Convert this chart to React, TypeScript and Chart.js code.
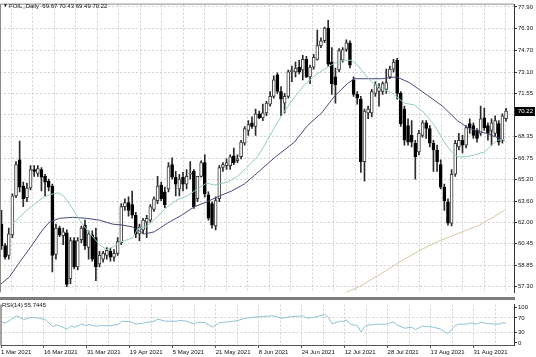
import React, { useEffect, useRef } from "react";
import { Chart, registerables } from "chart.js";
Chart.register(...registerables);

// ---------- DATA ----------
const SYMBOL = "FOIL,,Daily";
const DATE_LABELS = ["1 Mar 2021", "16 Mar 2021", "31 Mar 2021", "19 Apr 2021", "5 May 2021", "21 May 2021", "8 Jun 2021", "24 Jun 2021", "12 Jul 2021", "28 Jul 2021", "13 Aug 2021", "31 Aug 2021"];
const PRICE_TICKS = [77.9, 76.3, 74.7, 73.1, 71.55, 69.95, 68.35, 66.75, 65.2, 63.6, 62.0, 60.45, 58.85, 57.3];
const RSI_TICKS = [100, 70, 30, 0];
const RSI_GRID_LEVELS = [70, 30];

const OPEN = [
  61.90, 60.32, 59.60, 61.11, 63.98, 66.64, 64.70, 63.84, 64.56, 65.92,
  65.64, 65.92, 65.42, 65.06, 64.70, 59.67, 61.61, 61.04, 61.25, 57.88,
  60.68, 58.74, 60.75, 61.83, 60.18, 61.11, 60.90, 58.96, 59.32, 59.60,
  59.89, 59.46, 59.75, 60.54, 63.19, 63.48, 63.34, 62.55, 61.18, 61.47,
  62.05, 62.19, 62.98, 63.63, 64.78, 64.27, 64.49, 66.28, 65.35, 64.49,
  65.35, 64.85, 65.57, 65.78, 63.77, 65.42, 66.43, 64.06, 63.41, 61.76,
  63.77, 66.07, 66.21, 66.21, 66.93, 66.57, 66.86, 67.86, 68.80, 69.37,
  69.09, 70.02, 69.73, 70.09, 70.74, 71.31, 72.89, 71.67, 70.81, 71.31,
  73.11, 73.11, 73.47, 73.25, 74.04, 72.75, 73.47, 74.04, 75.05, 75.41,
  76.34, 73.83, 72.75, 73.25, 73.97, 74.76, 75.26, 72.53, 71.46, 71.10,
  66.50, 70.09, 70.09, 71.53, 71.67, 71.67, 71.82, 72.75, 73.32, 73.97,
  71.53, 70.38, 69.16, 68.44, 67.86, 67.22, 68.44, 69.37, 68.94, 67.86,
  67.36, 66.28, 64.63, 63.55, 61.97, 65.57, 67.58, 68.08, 67.72, 69.30,
  69.16, 68.80, 68.58, 69.73, 69.16, 68.80, 68.58, 69.30, 68.08, 69.67,
];
const HIGH = [
  62.91, 60.46, 61.61, 64.13, 66.50, 68.01, 64.99, 64.92, 66.21, 66.21,
  66.21, 66.07, 65.57, 65.21, 64.85, 61.90, 61.76, 61.61, 61.47, 60.90,
  60.90, 60.90, 61.76, 62.19, 61.40, 61.40, 61.61, 59.89, 59.89, 60.18,
  60.11, 60.03, 60.90, 63.41, 63.77, 63.91, 64.34, 62.76, 61.90, 62.33,
  62.55, 63.34, 63.91, 65.42, 64.99, 64.63, 66.43, 66.79, 65.78, 65.57,
  65.71, 65.92, 66.50, 65.92, 65.42, 66.57, 67.00, 64.27, 63.55, 63.91,
  66.21, 66.43, 66.71, 67.00, 67.51, 67.00, 68.08, 69.09, 69.52, 69.80,
  70.38, 70.23, 70.74, 70.95, 71.67, 72.82, 73.04, 72.03, 71.53, 73.25,
  73.54, 73.83, 73.97, 74.33, 74.26, 73.61, 74.40, 76.20, 75.62, 76.41,
  76.92, 74.90, 73.40, 74.83, 74.90, 75.48, 75.41, 72.75, 71.67, 71.31,
  70.38, 70.59, 71.82, 72.39, 72.25, 72.39, 73.32, 73.54, 74.04, 74.11,
  71.67, 70.59, 69.66, 69.52, 68.08, 68.80, 69.52, 69.52, 69.16, 68.08,
  67.72, 66.64, 64.85, 63.77, 65.92, 68.08, 68.58, 68.44, 69.16, 69.66,
  69.37, 68.94, 70.59, 70.45, 69.37, 69.66, 69.88, 69.52, 70.02, 70.43,
];
const LOW = [
  60.03, 59.32, 59.32, 60.90, 63.84, 64.27, 63.19, 63.55, 64.42, 65.42,
  65.42, 64.34, 63.98, 64.34, 58.38, 59.32, 60.97, 60.39, 57.30, 57.52,
  58.60, 58.53, 60.54, 60.03, 59.32, 59.17, 57.73, 58.74, 59.10, 59.32,
  59.17, 59.17, 59.60, 60.39, 62.91, 62.48, 62.33, 60.90, 60.68, 61.18,
  60.90, 62.05, 62.84, 63.41, 63.63, 63.12, 64.27, 65.21, 63.98, 63.98,
  64.34, 64.49, 65.21, 63.05, 63.55, 65.35, 63.91, 62.19, 61.61, 61.47,
  63.55, 65.78, 65.92, 65.92, 66.28, 66.43, 66.71, 67.72, 68.44, 68.94,
  68.44, 69.66, 69.52, 69.88, 70.59, 71.17, 71.53, 69.88, 70.09, 71.17,
  72.39, 72.75, 72.96, 72.53, 72.68, 72.25, 73.32, 73.97, 74.90, 75.26,
  73.54, 71.46, 70.81, 73.11, 73.83, 74.62, 73.40, 71.31, 70.74, 65.71,
  65.06, 69.66, 69.80, 71.31, 70.59, 71.46, 71.53, 72.61, 73.11, 71.10,
  69.09, 67.72, 67.72, 67.58, 65.21, 67.00, 68.30, 68.22, 67.58, 65.78,
  65.78, 64.49, 62.91, 61.83, 61.76, 65.42, 67.36, 67.15, 67.51, 68.58,
  68.22, 67.94, 68.44, 68.80, 68.08, 67.72, 68.37, 67.72, 67.86, 69.49,
];
const CLOSE = [
  60.32, 59.46, 61.18, 63.98, 66.28, 64.63, 63.77, 64.56, 65.92, 65.78,
  66.00, 65.35, 64.99, 64.63, 59.60, 61.61, 61.11, 61.33, 57.45, 60.68,
  58.74, 60.68, 61.61, 60.32, 61.18, 59.32, 58.74, 59.60, 59.75, 59.96,
  59.46, 59.75, 60.61, 63.19, 63.48, 62.91, 62.55, 61.18, 61.69, 62.19,
  62.33, 63.19, 63.77, 64.70, 63.77, 63.34, 66.14, 65.35, 64.85, 65.21,
  64.85, 65.42, 65.64, 63.19, 65.42, 66.43, 64.13, 62.33, 61.83, 63.63,
  66.07, 66.28, 66.43, 66.86, 66.43, 66.71, 67.94, 68.94, 69.23, 69.09,
  70.02, 69.73, 70.09, 70.81, 71.31, 72.53, 71.67, 71.10, 71.31, 73.11,
  73.25, 73.40, 73.11, 74.04, 72.75, 73.47, 74.19, 75.05, 75.41, 76.34,
  73.68, 72.25, 72.17, 74.69, 74.76, 75.26, 73.61, 71.46, 71.17, 66.50,
  70.23, 70.38, 71.67, 72.17, 71.96, 72.25, 72.32, 73.32, 73.83, 71.53,
  69.30, 68.08, 67.94, 67.94, 66.86, 68.58, 69.37, 68.94, 67.86, 67.36,
  66.50, 64.63, 63.63, 61.97, 65.57, 67.86, 68.08, 67.72, 69.01, 69.01,
  68.44, 68.22, 69.66, 69.01, 68.58, 69.37, 69.52, 67.94, 69.88, 70.22,
];

// fast moving average (teal), read at bar positions
const MA_FAST_X = [3.0, 6.9, 11.3, 13.2, 15.4, 16.8, 18.7, 21.5, 24.2, 27.0, 28.9, 30.9, 32.5, 36.1, 37.5, 40.2, 43.0, 45.7, 48.5, 51.2, 54.0, 56.5, 58.7, 62.3, 65.0, 67.8, 70.5, 72.5, 75.2, 78.0, 80.7, 83.5, 86.2, 89.0, 91.7, 94.5, 96.4, 98.1, 100.0, 101.9, 104.7, 107.4, 111.0, 113.8, 116.5, 119.3, 122.0, 124.0, 125.6, 128.1, 130.3, 133.1, 135.0, 136.6, 138.6];
const MA_FAST_Y = [61.90, 62.91, 63.84, 64.06, 64.20, 64.06, 63.41, 62.19, 61.26, 60.39, 60.03, 60.25, 60.54, 60.89, 61.54, 61.76, 62.48, 63.19, 63.70, 63.98, 64.49, 64.92, 64.78, 64.99, 65.42, 66.14, 66.86, 67.72, 69.01, 70.24, 71.24, 72.17, 72.82, 73.32, 73.75, 73.97, 73.97, 73.61, 72.96, 72.39, 71.89, 71.60, 70.81, 70.67, 70.09, 69.16, 67.94, 67.22, 66.86, 66.86, 67.00, 67.22, 67.72, 68.08, 68.15];
// slow moving average (navy)
const MA_SLOW_X = [-0.3, 2.2, 5.0, 8.5, 11.3, 13.2, 16.0, 19.6, 23.4, 27.0, 30.6, 33.3, 36.1, 39.4, 42.1, 45.7, 49.6, 53.2, 56.7, 59.5, 63.4, 66.9, 69.7, 75.2, 80.7, 84.3, 88.2, 91.7, 95.3, 97.2, 100.8, 104.7, 108.8, 112.4, 117.4, 121.5, 125.6, 128.9, 133.6, 137.2, 138.6];
const MA_SLOW_Y = [57.45, 58.02, 59.10, 60.39, 61.47, 62.05, 62.33, 62.40, 62.33, 62.19, 61.90, 61.83, 61.69, 61.18, 61.33, 61.97, 62.55, 63.19, 63.55, 63.91, 64.34, 64.85, 65.49, 66.79, 67.94, 69.16, 70.09, 71.31, 72.25, 72.61, 72.61, 72.61, 72.75, 72.32, 71.38, 70.59, 69.52, 68.94, 68.58, 68.22, 68.08];
// long moving average (beige)
const MA_LONG_X = [94.0, 98.6, 104.1, 109.6, 115.2, 120.7, 126.2, 131.7, 138.6];
const MA_LONG_Y = [56.75, 57.30, 58.17, 59.10, 59.96, 60.68, 61.25, 61.83, 62.91];

// RSI(14)
const RSI_X = [0, 1, 4, 6, 8, 10, 12, 14, 15, 16, 18, 19, 20, 22, 23, 24, 26, 27, 30, 32, 33, 35, 37, 39, 42, 43, 45, 48, 49, 51, 53, 54, 56, 58, 60, 62, 64, 65, 67, 69, 72, 74, 75, 77, 80, 83, 84, 86, 89, 90, 91, 93, 94, 95, 96, 98, 99, 100, 101, 104, 106, 108, 109, 111, 113, 114, 116, 119, 121, 122, 123, 125, 126, 128, 129, 131, 132, 134, 137, 138, 139];
const RSI_V = [58.6, 56, 76, 65.6, 71.6, 70, 64.6, 45.7, 50, 47.5, 38.8, 47.5, 44, 52.7, 48.3, 51.7, 46.5, 48.3, 48.3, 51.7, 60.4, 60.4, 52.7, 56, 61, 67, 61, 61, 63, 61, 52.7, 58.6, 57, 44, 57, 58.6, 61, 63, 69, 71.6, 74, 76, 76, 69, 74, 76, 70, 71.6, 80, 71.6, 54, 60.4, 60.4, 64.6, 52.7, 48.3, 31, 46, 50, 52.7, 52.7, 58.6, 50, 41.3, 44, 37, 47.5, 44, 38.8, 31, 27, 48.3, 52.7, 52.7, 56, 52.7, 58.6, 54, 52.7, 56, 55.7445];

// ---------- LAYOUT CONSTANTS ----------
const FONT = '"Liberation Sans", Arial, sans-serif';
const FS = 6;
const X_MIN = -0.413;
const X_MAX = 141.19;
const GRID_STEP = 5.923;
const GRID_OFFSET = -0.275;
const GRID_COUNT = 24;
const AXIS_W = 22;

const gridValues = Array.from({ length: GRID_COUNT }, (_, k) => GRID_OFFSET + k * GRID_STEP);

function xScale(showLabels: boolean) {
  return {
    type: "linear" as const,
    min: X_MIN,
    max: X_MAX,
    offset: false,
    afterBuildTicks: (s: any) => {
      s.ticks = gridValues.map((v) => ({ value: v }));
    },
    afterFit: (s: any) => {
      s.height = showLabels ? 12 : 0;
    },
    grid: {
      color: "#d2d2d2",
      lineWidth: 1,
      drawTicks: showLabels,
      tickLength: 3,
      tickColor: (c: any) => (c.index % 2 === 0 ? "#555" : "rgba(0,0,0,0)"),
    },
    border: { display: false, dash: [2, 2] },
    ticks: {
      display: showLabels,
      autoSkip: false,
      maxRotation: 0,
      minRotation: 0,
      align: "start" as const,
      padding: 1,
      color: "#111",
      font: { family: FONT, size: FS },
      callback: (_v: any, i: number) => (i % 2 === 0 ? DATE_LABELS[i / 2] ?? "" : ""),
    },
  };
}

const framePlugin = {
  id: "frame",
  afterDraw(chart: any) {
    const { ctx, chartArea: a } = chart;
    ctx.save();
    ctx.strokeStyle = "#8a8a8a";
    ctx.lineWidth = 1;
    ctx.beginPath();
    ctx.moveTo(a.left + 0.5, a.bottom);
    ctx.lineTo(a.left + 0.5, a.top - 0.5);
    ctx.lineTo(a.right, a.top - 0.5);
    ctx.stroke();
    ctx.restore();
  },
};

const headerPlugin = {
  id: "header",
  afterDraw(chart: any) {
    const { ctx } = chart;
    const n = CLOSE.length - 1;
    ctx.save();
    ctx.fillStyle = "#111";
    ctx.textBaseline = "middle";
    ctx.font = `5px ${FONT}`;
    ctx.fillText("\u25BC", 3, 6);
    ctx.font = `${FS}px ${FONT}`;
    ctx.fillText(
      `${SYMBOL}  ${OPEN[n].toFixed(2)} ${HIGH[n].toFixed(2)} ${LOW[n].toFixed(2)} ${CLOSE[n].toFixed(2)}`,
      9,
      6
    );
    // last price tag
    const y = Math.round(chart.scales.y.getPixelForValue(CLOSE[n]));
    const x0 = chart.chartArea.right + 1;
    ctx.fillStyle = "#000";
    ctx.fillRect(x0, y - 4, 20, 9);
    ctx.fillStyle = "#fff";
    ctx.fillText(CLOSE[n].toFixed(2), x0 + 3, y + 0.5);
    ctx.restore();
  },
};

const rsiLabelPlugin = {
  id: "rsiLabel",
  afterDraw(chart: any) {
    const { ctx } = chart;
    ctx.save();
    ctx.fillStyle = "#111";
    ctx.textBaseline = "middle";
    ctx.font = `${FS}px ${FONT}`;
    ctx.fillText(`RSI(14) ${RSI_V[RSI_V.length - 1].toFixed(4)}`, 2, 5);
    ctx.restore();
  },
};

export default function App() {
  const mainRef = useRef<HTMLCanvasElement>(null);
  const rsiRef = useRef<HTMLCanvasElement>(null);

  useEffect(() => {
    document.body.style.margin = "0";
    const bodies = OPEN.map((o, i) => ({ x: i, y: [o, CLOSE[i]] }));
    const wicks = LOW.map((l, i) => ({ x: i, y: [l, HIGH[i]] }));
    const bodyColors = OPEN.map((o, i) => (CLOSE[i] >= o ? "#ffffff" : "#000000"));
    const borderColors = OPEN.map((o, i) => (CLOSE[i] >= o ? "#3a3a3a" : "#000000"));

    const main = new Chart(mainRef.current!, {
      type: "bar",
      data: {
        datasets: [
          {
            type: "line",
            label: "MA fast",
            data: MA_FAST_X.map((x, k) => ({ x, y: MA_FAST_Y[k] })),
            borderColor: "#93cdbd",
            borderWidth: 1,
            pointRadius: 0,
            tension: 0,
            order: 1,
          } as any,
          {
            type: "line",
            label: "MA slow",
            data: MA_SLOW_X.map((x, k) => ({ x, y: MA_SLOW_Y[k] })),
            borderColor: "#4a4a78",
            borderWidth: 1,
            pointRadius: 0,
            tension: 0,
            order: 1,
          } as any,
          {
            type: "line",
            label: "MA long",
            data: MA_LONG_X.map((x, k) => ({ x, y: MA_LONG_Y[k] })),
            borderColor: "#d6c7a6",
            borderWidth: 1,
            pointRadius: 0,
            tension: 0,
            order: 1,
          } as any,
          {
            type: "bar",
            label: "body",
            data: bodies,
            backgroundColor: bodyColors,
            borderColor: borderColors,
            borderWidth: 1,
            borderSkipped: false,
            barThickness: 3,
            minBarLength: 1,
            grouped: false,
            order: 2,
          } as any,
          {
            type: "bar",
            label: "wick",
            data: wicks,
            backgroundColor: "#2a2a2a",
            borderWidth: 0,
            barThickness: 1,
            grouped: false,
            order: 3,
          } as any,
        ],
      },
      options: {
        animation: false,
        responsive: false,
        events: [],
        layout: { padding: { top: 1, bottom: 1, left: 0, right: 0 } },
        plugins: { legend: { display: false }, tooltip: { enabled: false } },
        scales: {
          x: xScale(false) as any,
          y: {
            type: "linear",
            position: "right",
            min: 56.87,
            max: 78.07,
            afterBuildTicks: (s: any) => {
              s.ticks = PRICE_TICKS.map((v) => ({ value: v }));
            },
            afterFit: (s: any) => {
              s.width = AXIS_W;
            },
            grid: { color: "#d2d2d2", tickLength: 3, tickColor: "#333" },
            border: { display: true, color: "#333", dash: [2, 2] },
            ticks: {
              padding: 1,
              color: "#111",
              font: { family: FONT, size: FS },
              callback: (v: any) => Number(v).toFixed(2),
            },
          } as any,
        },
      },
      plugins: [framePlugin, headerPlugin],
    });

    const rsi = new Chart(rsiRef.current!, {
      type: "line",
      data: {
        datasets: [
          {
            label: "RSI(14)",
            data: RSI_X.map((x, k) => ({ x, y: RSI_V[k] })),
            borderColor: "#8fc3d6",
            borderWidth: 1,
            pointRadius: 0,
            tension: 0,
          },
        ],
      },
      options: {
        animation: false,
        responsive: false,
        events: [],
        layout: { padding: { top: 1, bottom: 0, left: 0, right: 0 } },
        plugins: { legend: { display: false }, tooltip: { enabled: false } },
        scales: {
          x: xScale(true) as any,
          y: {
            type: "linear",
            position: "right",
            min: -6,
            max: 107.7,
            afterBuildTicks: (s: any) => {
              s.ticks = RSI_TICKS.map((v) => ({ value: v }));
            },
            afterFit: (s: any) => {
              s.width = AXIS_W;
            },
            grid: {
              color: (c: any) =>
                c.tick && RSI_GRID_LEVELS.includes(c.tick.value) ? "#d2d2d2" : "rgba(0,0,0,0)",
              tickLength: 3,
              tickColor: "#333",
            },
            border: { display: true, color: "#333", dash: [2, 2] },
            ticks: {
              padding: 1,
              color: "#111",
              font: { family: FONT, size: FS },
              callback: (v: any) => String(v),
            },
          } as any,
        },
      },
      plugins: [
        {
          id: "rsiFrame",
          afterDraw(chart: any) {
            const { ctx, chartArea: a } = chart;
            ctx.save();
            ctx.strokeStyle = "#555";
            ctx.lineWidth = 1;
            ctx.beginPath();
            ctx.moveTo(a.left + 0.5, a.top);
            ctx.lineTo(a.left + 0.5, a.bottom + 0.5);
            ctx.lineTo(a.right, a.bottom + 0.5);
            ctx.stroke();
            ctx.restore();
          },
        },
        rsiLabelPlugin,
      ],
    });

    return () => {
      main.destroy();
      rsi.destroy();
    };
  }, []);

  return (
    <div style={{ position: "fixed", left: 0, top: 0, width: 536, height: 357, background: "#fff" }}>
      <canvas ref={mainRef} width={536} height={297} style={{ position: "absolute", left: 0, top: 0 }} />
      <div style={{ position: "absolute", left: 0, top: 297, width: 515, height: 3, background: "#7d7d7d" }} />
      <canvas ref={rsiRef} width={536} height={57} style={{ position: "absolute", left: 0, top: 300 }} />
    </div>
  );
}
